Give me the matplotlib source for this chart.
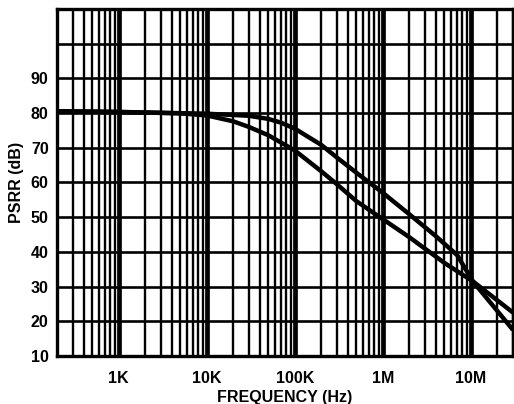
import matplotlib.pyplot as plt
from matplotlib.ticker import LogLocator, FixedLocator, NullFormatter

# curva superior (lectura del grafico)
freq_a = [200, 1e3, 1e4, 3e4, 5e4, 7e4, 1e5, 2e5, 3e5, 5e5, 1e6, 2e6, 4e6, 7e6, 1.05e7, 3e7]
psrr_a = [80.5, 80.3, 79.8, 79.2, 78.3, 77.2, 75.5, 70.8, 67.2, 62.8, 57, 50.8, 44.5, 39, 31.5, 17.5]

# curva inferior
freq_b = [200, 1e3, 5e3, 1e4, 2e4, 3e4, 5e4, 1e5, 2e5, 3e5, 5e5, 1e6, 2e6, 5e6, 1.05e7, 3e7]
psrr_b = [80.5, 80.3, 79.9, 79.3, 77.6, 76, 73.6, 69.2, 63.2, 59.5, 54.6, 49.4, 44.2, 36.8, 31.5, 22.5]

x_ticks = [1e3, 1e4, 1e5, 1e6, 1e7]
x_labels = ['1K', '10K', '100K', '1M', '10M']
y_ticks = [10, 20, 30, 40, 50, 60, 70, 80, 90]

plt.rcParams['font.family'] = ['Liberation Sans', 'DejaVu Sans']
plt.rcParams['font.weight'] = 'bold'

fig = plt.figure(figsize=(5.14, 4.04), dpi=100)
ax = fig.add_axes([0.111, 0.119, 0.887, 0.859])

ax.plot(freq_a, psrr_a, color='black', linewidth=3.2, solid_capstyle='butt', zorder=3)
ax.plot(freq_b, psrr_b, color='black', linewidth=3.2, solid_capstyle='butt', zorder=3)

ax.set_xscale('log')
ax.set_xlim(200, 3e7)
ax.set_ylim(10, 110)

ax.xaxis.set_major_locator(FixedLocator(x_ticks))
ax.set_xticklabels(x_labels)
ax.xaxis.set_minor_locator(LogLocator(base=10, subs=range(2, 10), numticks=20))
ax.xaxis.set_minor_formatter(NullFormatter())
ax.set_yticks(y_ticks)
ax.yaxis.set_minor_locator(FixedLocator([100]))

ax.grid(which='major', axis='x', color='black', linewidth=3.4)
ax.grid(which='minor', axis='x', color='black', linewidth=1.7)
ax.grid(which='both', axis='y', color='black', linewidth=1.9)

ax.tick_params(which='both', length=0)
ax.tick_params(axis='x', pad=11, labelsize=11.5)
ax.tick_params(axis='y', pad=6, labelsize=11.5)

for s in ax.spines.values():
    s.set_linewidth(2.4)

ax.set_xlabel('FREQUENCY (Hz)', fontsize=11.5, fontweight='bold', labelpad=3)
ax.set_ylabel('PSRR (dB)', fontsize=11.5, fontweight='bold', labelpad=5)

plt.savefig('out.png', dpi=100)
